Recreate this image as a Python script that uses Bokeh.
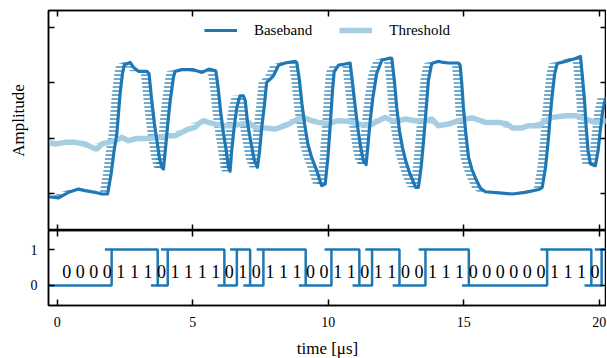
from bokeh.plotting import figure
from bokeh.models import Range1d, LinearAxis, FixedTicker, Legend, LegendItem
from bokeh.layouts import column
from bokeh.embed import file_html
from bokeh.resources import INLINE
from bokeh.core.properties import value

FONT = "Liberation Serif"
DARK = "#1f78b4"
LIGHT = "#a6cee3"

# ---- data ----
t_base = [-0.32, 0.05, 0.42, 0.79, 1.03, 1.40, 1.64, 1.86, 1.99, 2.10,
          2.20, 2.26, 2.32, 2.41, 2.48, 2.69, 2.82, 3.00, 3.31, 3.39,
          3.49, 3.59, 3.68, 3.77, 3.86, 3.92, 3.99, 4.08, 4.17, 4.29,
          4.35, 4.60, 5.03, 5.35, 5.60, 5.85, 5.89, 5.95, 6.04, 6.14,
          6.24, 6.32, 6.38, 6.44, 6.53, 6.63, 6.75, 6.87, 6.94, 7.03,
          7.16, 7.28, 7.39, 7.47, 7.55, 7.65, 7.73, 7.86, 7.98, 8.17,
          8.41, 8.78, 8.84, 8.94, 9.03, 9.13, 9.25, 9.39, 9.58, 9.76,
          9.89, 9.99, 10.07, 10.16, 10.22, 10.38, 10.81, 10.90, 11.00, 11.09,
          11.20, 11.30, 11.40, 11.46, 11.55, 11.65, 11.79, 11.98, 12.29, 12.35,
          12.44, 12.53, 12.63, 12.74, 12.86, 13.02, 13.23, 13.33, 13.43, 13.52,
          13.62, 13.70, 13.82, 14.07, 14.25, 14.44, 14.81, 14.87, 14.93, 14.99,
          15.08, 15.18, 15.30, 15.44, 15.62, 15.80, 16.30, 16.79, 17.28, 17.77,
          17.90, 18.02, 18.12, 18.20, 18.27, 18.36, 18.45, 18.76, 19.13, 19.31,
          19.37, 19.46, 19.52, 19.59, 19.68, 19.86, 19.96, 20.04, 20.13, 20.23,
          20.30]
v_base = [-1.05, -1.07, -0.97, -0.91, -0.94, -0.97, -1.00, -1.00, -0.64, -0.22,
          0.08, 0.44, 0.80, 1.17, 1.33, 1.37, 1.28, 1.21, 1.21, 1.17,
          0.68, 0.26, -0.04, -0.34, -0.52, -0.55, -0.22, 0.26, 0.68, 1.10,
          1.21, 1.24, 1.24, 1.19, 1.25, 1.22, 1.10, 0.86, 0.45, 0.08,
          -0.22, -0.52, -0.59, -0.22, 0.20, 0.56, 0.77, 0.77, 0.68, 0.26,
          -0.10, -0.40, -0.52, -0.22, 0.20, 0.62, 1.01, 1.07, 1.13, 1.32,
          1.36, 1.39, 1.37, 1.05, 0.63, 0.26, -0.10, -0.34, -0.58, -0.85,
          -0.82, -0.34, 0.20, 0.86, 1.20, 1.32, 1.36, 0.99, 0.56, 0.20,
          -0.16, -0.40, -0.47, -0.16, 0.32, 0.74, 1.17, 1.41, 1.45, 1.44,
          1.05, 0.56, 0.14, -0.16, -0.40, -0.64, -0.88, -0.88, -0.52, -0.04,
          0.56, 1.05, 1.35, 1.39, 1.37, 1.36, 1.36, 1.32, 0.99, 0.56,
          0.08, -0.34, -0.55, -0.72, -0.90, -0.96, -0.98, -1.00, -0.97, -0.92,
          -0.88, -0.52, -0.04, 0.44, 0.80, 1.17, 1.35, 1.39, 1.44, 1.48,
          1.17, 0.68, 0.20, -0.22, -0.46, -0.49, -0.22, 0.14, 0.50, 0.72,
          0.74]

t_thr = [-0.32, -0.07, 0.30, 0.66, 1.03, 1.28, 1.46, 1.65, 1.89, 2.14,
         2.38, 2.63, 2.94, 3.37, 3.74, 4.04, 4.35, 4.60, 4.84, 5.09,
         5.21, 5.40, 5.58, 5.83, 6.07, 6.44, 6.81, 7.06, 7.30, 7.67,
         8.04, 8.41, 8.66, 8.90, 9.15, 9.39, 9.64, 10.01, 10.38, 10.75,
         11.12, 11.49, 11.86, 12.10, 12.35, 12.59, 12.84, 13.21, 13.58, 13.82,
         14.07, 14.44, 14.81, 15.07, 15.31, 15.62, 15.80, 16.30, 16.61, 16.79,
         17.16, 17.40, 17.77, 18.02, 18.27, 18.76, 19.13, 19.50, 19.86, 20.30]
v_thr = [-0.07, -0.10, -0.07, -0.07, -0.10, -0.16, -0.19, -0.10, -0.07, -0.04,
         0.02, -0.04, 0.00, 0.00, 0.02, 0.05, 0.05, 0.11, 0.17, 0.20,
         0.26, 0.32, 0.29, 0.26, 0.23, 0.23, 0.26, 0.29, 0.20, 0.19,
         0.17, 0.23, 0.29, 0.35, 0.37, 0.32, 0.29, 0.27, 0.32, 0.31,
         0.26, 0.23, 0.32, 0.38, 0.32, 0.32, 0.35, 0.32, 0.32, 0.35,
         0.23, 0.26, 0.32, 0.35, 0.37, 0.32, 0.29, 0.29, 0.26, 0.19,
         0.19, 0.23, 0.23, 0.32, 0.38, 0.41, 0.41, 0.35, 0.29, 0.32]

switch_times = [2.01, 3.71, 4.08, 6.17, 6.63, 7.12, 7.61, 9.17, 10.12,
                11.15, 11.62, 12.63, 13.59, 15.19, 18.08, 19.71, 20.09]
decided_levels = [0, 1, 0, 1, 0, 1, 0, 1, 0, 1, 0, 1, 0, 1, 0, 1, 0, 1]

bits = "0000111011110101110011011001110000001110"

x_ticks = [0, 5, 10, 15, 20]
amp_ticks = [-1, 0, 1, 2]
level_ticks = [0, 1]

# ---- layout / style constants ----
X0, X1 = -0.32, 20.27
SHIFT = 0.30      # horizontal smear of the sampled traces
HOOK = 0.25
BIT_T = 0.5
BIT_OFF = 0.35


def style_axis(ax, ticks, show_labels):
    ax.ticker = FixedTicker(ticks=ticks)
    ax.major_tick_in = 6
    ax.major_tick_out = 0
    ax.minor_tick_in = 0
    ax.minor_tick_out = 0
    ax.major_tick_line_color = "black"
    ax.major_tick_line_width = 1.5
    ax.axis_line_color = "black"
    ax.axis_line_width = 1.5
    ax.major_label_text_font = FONT
    ax.major_label_text_color = "black"
    ax.major_label_text_font_size = "14px"
    if not show_labels:
        ax.major_label_overrides = {t: "" for t in ticks}
        ax.major_label_text_font_size = "0px"
        ax.major_label_standoff = 0


def base_fig(frame_h, y0, y1, top, bottom):
    p = figure(frame_width=558, frame_height=frame_h,
               x_range=Range1d(X0, X1), y_range=Range1d(y0, y1),
               output_backend="svg", toolbar_location=None,
               min_border_left=48, min_border_right=0,
               min_border_top=top, min_border_bottom=bottom)
    p.grid.grid_line_color = None
    p.outline_line_color = "black"
    p.outline_line_width = 1.5
    p.background_fill_color = "white"
    p.border_fill_color = "white"
    p.add_layout(LinearAxis(), "above")
    p.add_layout(LinearAxis(), "right")
    return p


def band(t, v):
    xs, ys = [], []
    for i in range(len(t) - 1):
        xs.append([t[i], t[i + 1], t[i + 1] - SHIFT, t[i] - SHIFT])
        ys.append([v[i], v[i + 1], v[i + 1], v[i]])
    return xs, ys


# ---- top panel ----
p1 = base_fig(220, -1.658, 2.306, 10, 0)
for ax in p1.xaxis:
    style_axis(ax, x_ticks, False)
for ax in p1.yaxis:
    style_axis(ax, amp_ticks, False)
yl = p1.left[0]
yl.axis_label = "Amplitude"
yl.axis_label_text_font = FONT
yl.axis_label_text_font_size = "17px"
yl.axis_label_text_font_style = "normal"
yl.axis_label_text_color = "black"
yl.axis_label_standoff = 21

bx, by = band(t_base, v_base)
p1.patches(bx, by, fill_alpha=0, line_alpha=0, hatch_pattern="horizontal_line",
           hatch_color=DARK, hatch_alpha=0.85, hatch_scale=4, hatch_weight=1.5)
tx, ty = band(t_thr, v_thr)
p1.patches(tx, ty, fill_alpha=0, line_alpha=0, hatch_pattern="horizontal_line",
           hatch_color=LIGHT, hatch_alpha=0.9, hatch_scale=4, hatch_weight=1.5)
r_thr = p1.line(t_thr, v_thr, line_color=LIGHT, line_width=5.5, line_join="round")
r_base = p1.line(t_base, v_base, line_color=DARK, line_width=3.2, line_join="round")

legend = Legend(items=[LegendItem(label="Baseband", renderers=[r_base]),
                       LegendItem(label="Threshold", renderers=[r_thr])],
                location="top_center", orientation="horizontal",
                label_text_font=FONT, label_text_font_size="15px",
                label_text_color="black",
                glyph_width=33, glyph_height=20, label_height=20,
                label_standoff=17, spacing=27, padding=0, margin=10,
                border_line_alpha=0, background_fill_alpha=0)
p1.add_layout(legend)

# ---- bottom panel ----
p2 = base_fig(75, -0.556, 1.528, 0, 0)
for ax in p2.above:
    style_axis(ax, x_ticks, False)
style_axis(p2.below[0], x_ticks, True)
style_axis(p2.left[0], level_ticks, True)
style_axis(p2.right[0], level_ticks, False)
p2.left[0].major_label_standoff = 11
xb = p2.below[0]
xb.major_label_standoff = 11
xb.axis_label = "time [\u03bcs]"
xb.axis_label_text_font = FONT
xb.axis_label_text_font_size = "17px"
xb.axis_label_text_font_style = "normal"
xb.axis_label_text_color = "black"
xb.axis_label_standoff = 9

step_x = [X0] + switch_times + [X1]
step_y = decided_levels + [decided_levels[-1]]
p2.step(step_x, step_y, mode="after", line_color=DARK, line_width=2.5)
p2.segment(x0=[t - HOOK for t in switch_times], y0=decided_levels[1:],
           x1=switch_times, y1=decided_levels[1:], line_color=DARK, line_width=2.5)

bit_x = [BIT_T * k + BIT_OFF for k in range(len(bits))]
p2.text(x=bit_x, y=[0.39] * len(bits), text=list(bits),
        text_font=value(FONT), text_font_size="18px", text_color="black",
        text_align="center", text_baseline="alphabetic")

layout = column(p1, p2, spacing=0)
open("out.html", "w").write(file_html(layout, INLINE))
